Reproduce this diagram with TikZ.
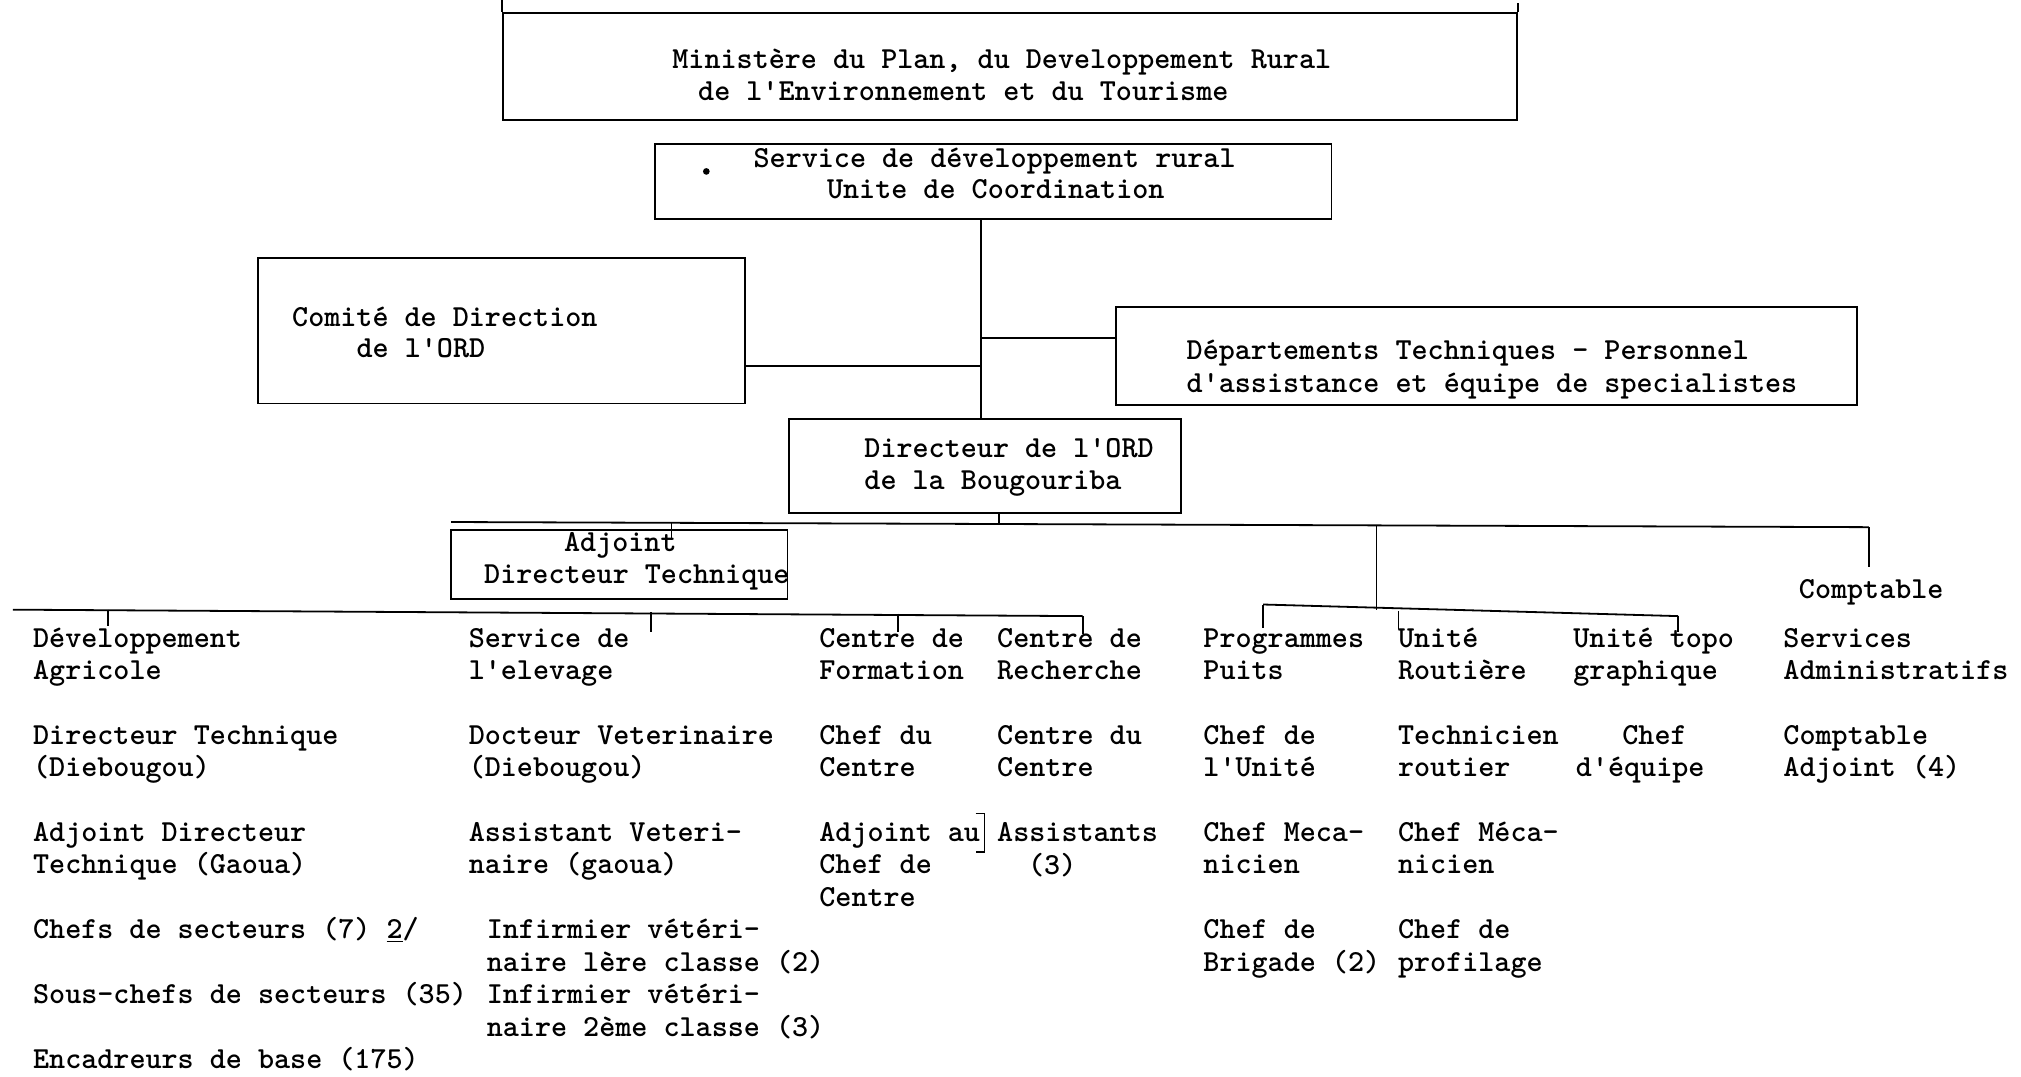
\documentclass[tikz,border=0pt]{standalone}
\usetikzlibrary{fit}
\newcommand\ml[1]{\begin{tabular}[t]{@{}l@{}}#1\end{tabular}}
\begin{document}
\begin{tikzpicture}[x=0.6444pt,y=-0.6444pt, line width=0.9pt,
  box/.style={draw, inner sep=0pt},
  txt/.style={anchor=base west, inner sep=0pt, font=\ttfamily\bfseries\fontsize{15.3pt}{16.2pt}\selectfont}]
\useasboundingbox (0,0) rectangle (1568,835);

% ---- boxes
\node[box, fit={(390,10) (1177,93)}] (min) {};
\draw (min.north west) -- ++(0,-10);
\draw (min.north east) -- ++(0,-7);
\node[box, fit={(508,112) (1033,170)}] (sdr) {};
\node[box, fit={(200,200) (578,313)}] (com) {};
\node[box, fit={(866,238) (1441,314)}] (dep) {};
\node[box, fit={(612,325) (916,398)}] (dir) {};
\node[box, fit={(350,411) (611,465)}] (adj) {};
\fill (548,133) circle (2.6);

% ---- box texts
\node[txt] (m1) at (521,53) {Ministère du Plan, du Developpement Rural};
\node[txt] (m2) at (541,78) {de l'Environnement et du Tourisme};
\node[txt] (s1) at (584,130) {Service de développement rural};
\node[txt] (s2) at (641,154) {Unite de Coordination};
\node[txt] (c1) at (226,253) {Comité de Direction};
\node[txt] (c2) at (276,277) {de l'ORD};
\node[txt] (d1) at (920,279) {\ml{Départements Techniques - Personnel\\d'assistance et équipe de specialistes}};
\node[txt] (r1) at (670,355) {\ml{Directeur de l'ORD\\de la Bougouriba}};
\node[txt] (a1) at (437,428) {Adjoint};
\node[txt] (a2) at (375,453) {Directeur Technique};
\node[txt] (cp) at (1395,464) {Comptable};

% ---- columns
\node[txt] (k1a) at (25,502)   {\ml{Développement\\Agricole}};
\node[txt] (k1b) at (25,577.5) {\ml{Directeur Technique\\(Diebougou)}};
\node[txt] (k1c) at (25,652.9) {\ml{Adjoint Directeur\\Technique (Gaoua)}};
\node[txt] (k1d) at (25,728.4) {Chefs de secteurs (7) \underline{2}/};
\node[txt] (k1e) at (25,778.7) {Sous-chefs de secteurs (35)};
\node[txt] (k1f) at (25,829)   {Encadreurs de base (175)};

\node[txt] (k2a) at (363,502)   {\ml{Service de\\l'elevage}};
\node[txt] (k2b) at (363,577.5) {\ml{Docteur Veterinaire\\(Diebougou)}};
\node[txt] (k2c) at (363,652.9) {\ml{Assistant Veteri-\\naire (gaoua)}};
\node[txt] (k2d) at (377,728.4) {\ml{Infirmier vétéri-\\naire lère classe (2)\\Infirmier vétéri-\\naire 2ème classe (3)}};

\node[txt] (k3a) at (635,502)   {\ml{Centre de\\Formation}};
\node[txt] (k3b) at (635,577.5) {\ml{Chef du\\Centre}};
\node[txt] (k3c) at (635,652.9) {\ml{Adjoint au\\Chef de\\Centre}};

\node[txt] (k4a) at (773,502)   {\ml{Centre de\\Recherche}};
\node[txt] (k4b) at (773,577.5) {\ml{Centre du\\Centre}};
\node[txt] (k4c) at (773,652.9) {Assistants};
\node[txt] (k4d) at (797,678.1) {(3)};

\node[txt] (k5a) at (933,502)   {\ml{Programmes\\Puits}};
\node[txt] (k5b) at (933,577.5) {\ml{Chef de\\l'Unité}};
\node[txt] (k5c) at (933,652.9) {\ml{Chef Meca-\\nicien}};
\node[txt] (k5d) at (933,728.4) {\ml{Chef de\\Brigade (2)}};

\node[txt] (k6a) at (1084,502)   {\ml{Unité\\Routière}};
\node[txt] (k6b) at (1084,577.5) {\ml{Technicien\\routier}};
\node[txt] (k6c) at (1084,652.9) {\ml{Chef Méca-\\nicien}};
\node[txt] (k6d) at (1084,728.4) {\ml{Chef de\\profilage}};

\node[txt] (k7a) at (1220,502)   {\ml{Unité topo\\graphique}};
\node[txt] (k7b) at (1258,577.5) {Chef};
\node[txt] (k7c) at (1222,602.6) {d'équipe};

\node[txt] (k8a) at (1383,502)   {\ml{Services\\Administratifs}};
\node[txt] (k8b) at (1383,577.5) {\ml{Comptable\\Adjoint (4)}};

% ---- connectors
\coordinate (vx) at (761,0);
\draw (sdr.south -| vx) -- (dir.north -| vx);
\coordinate (j1) at (761,284);
\draw (com.east |- j1) -- (j1);
\coordinate (j2) at (761,262);
\draw (j2) -- (dep.west |- j2);

\coordinate (b1L) at (350,405);
\coordinate (b1R) at (1450,409);
\draw (b1L) -- (b1R);
\coordinate (t0) at (775,407);
\draw (dir.south -| t0) -- (t0);
\coordinate (ta1) at (521,405);
\coordinate (ta2) at (521,419);
\draw (ta1) -- (ta2);
\coordinate (cpt) at (1450,440);
\draw (b1R) -- (cpt);

\coordinate (m0) at (1068,408);
\coordinate (m1x) at (1068,473);
\draw (m0) -- (m1x);
\coordinate (b2L) at (980,469);
\coordinate (b2R) at (1302,478);
\draw (b2L) -- (b2R);
\draw (b2L) -- (980,487);
\draw (1085,474) -- (1085,488);
\draw (b2R) -- (1302,490);

\coordinate (b3L) at (10,473);
\coordinate (b3R) at (840,478);
\draw (b3L) -- (b3R);
\draw (84,473) -- (84,486);
\draw (505,475) -- (505,490);
\draw (697,476) -- (697,490);
\draw (b3R) -- (840,492);

% bracket after "Adjoint au"
\draw[line width=0.7pt] (757,631) -- (764,631) -- (764,661) -- (757,661);
\end{tikzpicture}
\end{document}
